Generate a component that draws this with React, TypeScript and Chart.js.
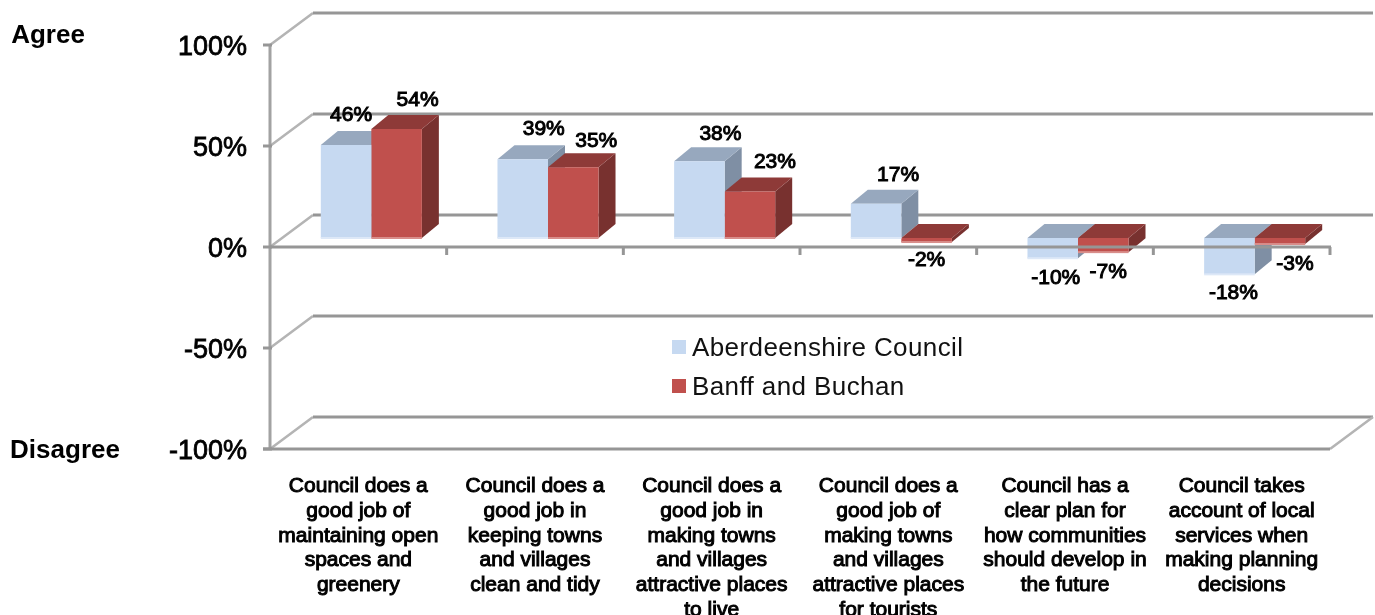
import React, { useEffect, useRef } from "react";
import { Chart, registerables } from "chart.js";

Chart.register(...registerables);

const categories: string[][] = [
  ["Council does a", "good job of", "maintaining open", "spaces and", "greenery"],
  ["Council does a", "good job in", "keeping towns", "and villages", "clean and tidy"],
  ["Council does a", "good job in", "making towns", "and villages", "attractive places", "to live"],
  ["Council does a", "good job of", "making towns", "and villages", "attractive places", "for tourists"],
  ["Council has a", "clear plan for", "how communities", "should develop in", "the future"],
  ["Council takes", "account of local", "services when", "making planning", "decisions"],
];
const aberdeenshire = [46, 39, 38, 17, -10, -18];
const banffBuchan = [54, 35, 23, -2, -7, -3];
const seriesNames = ["Aberdeenshire Council", "Banff and Buchan"];
const sideLabels = ["Agree", "Disagree"];

const FONT = '"Liberation Sans", Arial, sans-serif';
const WALL = { x: 43, y: -32 };
const PLANE = { x: 13, y: -9 };
const DEPTH = { x: 17, y: -14 };
const palette = [
  { front: "#C6D9F1", top: "#97A8BE", side: "#7F8FA4", edge: "#DDE8F7" },
  { front: "#C0504D", top: "#8E3A38", side: "#78312F", edge: "#D88E8B" },
];
const labelNudges = [
  [[5, -30], [21, -30], [21, -27], [22, -28], [3, 20], [4, 19]],
  [[21, -29], [23, -26], [25, -29], [0, 18], [5, 20], [15, 20]],
];

const threeD = {
  id: "threeD",
  beforeDatasetsDraw(chart: any) {
    const { ctx, scales, chartArea: a } = chart;
    const y = scales.y;
    const line = (pts: number[][], color: string, w: number) => {
      ctx.strokeStyle = color;
      ctx.lineWidth = w;
      ctx.beginPath();
      pts.forEach((p, i) => (i ? ctx.lineTo(p[0], p[1]) : ctx.moveTo(p[0], p[1])));
      ctx.stroke();
    };
    ctx.save();
    ctx.lineCap = "butt";
    y.ticks.forEach((t: any) => {
      const py = y.getPixelForValue(t.value);
      line([[a.left, py], [a.left + WALL.x, py + WALL.y]], "#B4B4B4", 2.6);
      line([[a.left + WALL.x, py + WALL.y], [a.right + WALL.x, py + WALL.y]], "#969696", 2.8);
    });
    const floor = y.getPixelForValue(-100);
    line([[a.right, floor], [a.right + WALL.x, floor + WALL.y]], "#B4B4B4", 2.6);
    ctx.restore();

    ctx.save();
    ctx.translate(PLANE.x, PLANE.y);
    chart.data.datasets.forEach((_: any, di: number) => {
      const col = palette[di];
      chart.getDatasetMeta(di).data.forEach((bar: any) => {
        const p = bar.getProps(["x", "y", "base", "width"], true);
        const l = p.x - p.width / 2;
        const r = p.x + p.width / 2;
        const top = Math.min(p.y, p.base);
        const bottom = Math.max(p.y, p.base);
        ctx.fillStyle = col.side;
        ctx.beginPath();
        ctx.moveTo(r, top);
        ctx.lineTo(r + DEPTH.x, top + DEPTH.y);
        ctx.lineTo(r + DEPTH.x, bottom + DEPTH.y);
        ctx.lineTo(r, bottom);
        ctx.closePath();
        ctx.fill();
        ctx.fillStyle = col.top;
        ctx.beginPath();
        ctx.moveTo(l, top);
        ctx.lineTo(l + DEPTH.x, top + DEPTH.y);
        ctx.lineTo(r + DEPTH.x, top + DEPTH.y);
        ctx.lineTo(r, top);
        ctx.closePath();
        ctx.fill();
      });
    });
  },
  afterDatasetsDraw(chart: any) {
    const { ctx, scales, chartArea: a } = chart;
    chart.data.datasets.forEach((_: any, di: number) => {
      chart.getDatasetMeta(di).data.forEach((bar: any) => {
        const p = bar.getProps(["x", "y", "base", "width"], true);
        ctx.fillStyle = palette[di].edge;
        ctx.fillRect(p.x - p.width / 2, Math.max(p.y, p.base) - 1, p.width, 2);
      });
    });
    ctx.restore();

    const y = scales.y;
    const x = scales.x;
    const zero = y.getPixelForValue(0);
    const floor = y.getPixelForValue(-100);
    ctx.save();
    ctx.strokeStyle = "#A2A2A2";
    ctx.lineWidth = 3;
    ctx.beginPath();
    ctx.moveTo(a.left, y.getPixelForValue(100));
    ctx.lineTo(a.left, floor);
    ctx.stroke();
    ctx.strokeStyle = "#969696";
    y.ticks.forEach((t: any) => {
      const py = y.getPixelForValue(t.value);
      ctx.beginPath();
      ctx.moveTo(a.left - 7, py);
      ctx.lineTo(a.left + 2, py);
      ctx.stroke();
    });
    ctx.beginPath();
    ctx.moveTo(a.left - 7, floor);
    ctx.lineTo(a.right, floor);
    ctx.moveTo(a.left, zero);
    ctx.lineTo(a.right + 1, zero);
    ctx.stroke();
    const step = (a.right - a.left) / x.ticks.length;
    for (let i = 1; i <= x.ticks.length; i++) {
      ctx.beginPath();
      ctx.moveTo(a.left + step * i, zero);
      ctx.lineTo(a.left + step * i, zero + 8);
      ctx.stroke();
    }

    // value labels
    ctx.fillStyle = "#000";
    ctx.strokeStyle = "#000";
    ctx.lineWidth = 1;
    ctx.textAlign = "center";
    ctx.textBaseline = "middle";
    ctx.font = `21px ${FONT}`;
    chart.data.datasets.forEach((ds: any, di: number) => {
      chart.getDatasetMeta(di).data.forEach((bar: any, i: number) => {
        const v = ds.data[i];
        const p = bar.getProps(["x", "y", "base"], true);
        const tx = p.x + PLANE.x + labelNudges[di][i][0];
        const ty = p.y + PLANE.y + labelNudges[di][i][1];
        ctx.fillText(`${v}%`, tx, ty);
        ctx.strokeText(`${v}%`, tx, ty);
      });
    });

    // Agree / Disagree
    ctx.font = `bold 26px ${FONT}`;
    ctx.fillText(sideLabels[0], 48, 36);
    ctx.fillText(sideLabels[1], 65, floor + 2);

    // legend
    ctx.textAlign = "left";
    ctx.font = `26px ${FONT}`;
    (ctx as any).letterSpacing = "0.4px";
    chart.data.datasets.forEach((ds: any, di: number) => {
      const ly = y.getPixelForValue(-50) + 39 * di;
      ctx.fillStyle = palette[di].front;
      ctx.fillRect(672, ly - 8, 14, 14);
      ctx.fillStyle = "#111";
      ctx.fillText(ds.label, 692, ly + 1);
    });
    (ctx as any).letterSpacing = "0px";
    ctx.restore();
  },
};

export default function App() {
  const ref = useRef<HTMLCanvasElement | null>(null);
  useEffect(() => {
    const chart = new Chart(ref.current as HTMLCanvasElement, {
      type: "bar",
      data: {
        labels: categories as any,
        datasets: [
          { label: seriesNames[0], data: aberdeenshire, backgroundColor: palette[0].front },
          { label: seriesNames[1], data: banffBuchan, backgroundColor: palette[1].front },
        ],
      },
      options: {
        responsive: false,
        animation: false,
        layout: { padding: { left: 0, top: 45, right: 45, bottom: 0 } },
        datasets: { bar: { categoryPercentage: 0.572, barPercentage: 1 } },
        plugins: { legend: { display: false }, tooltip: { enabled: false } },
        scales: {
          x: {
            grid: { display: false },
            border: { display: false },
            afterFit: (s: any) => { s.height = 166; },
            ticks: {
              autoSkip: false,
              maxRotation: 0,
              minRotation: 0,
              padding: 17,
              color: "#000",
              textStrokeColor: "#000",
              textStrokeWidth: 1,
              font: { family: FONT, size: 21, lineHeight: 1.176 },
            },
          },
          y: {
            min: -100,
            max: 100,
            grid: { display: false },
            border: { display: false },
            afterFit: (s: any) => { s.width = 270; },
            ticks: {
              stepSize: 50,
              padding: 15,
              labelOffset: 3,
              color: "#000",
              textStrokeColor: "#000",
              textStrokeWidth: 0.8,
              font: { family: FONT, size: 27 },
              callback: (v: any) => `${v}%`,
            },
          },
        },
      } as any,
      plugins: [threeD as any],
    });
    return () => chart.destroy();
  }, []);
  return (
    <canvas
      ref={ref}
      width={1375}
      height={615}
      style={{ position: "fixed", left: 0, top: 0, display: "block", background: "#fff" }}
    />
  );
}
